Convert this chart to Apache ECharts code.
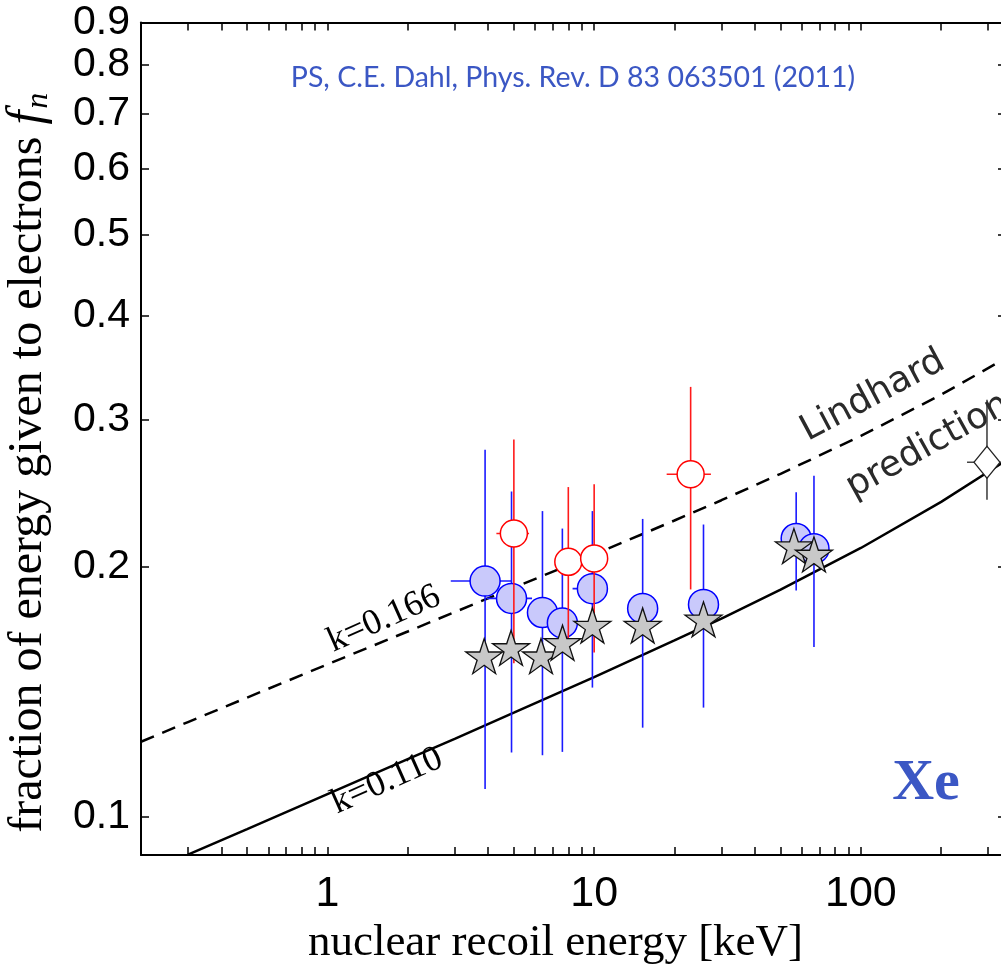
<!DOCTYPE html>
<html>
<head>
<meta charset="utf-8">
<title>Xe nuclear recoil quenching</title>
<script src="https://cdn.jsdelivr.net/npm/echarts@6/dist/echarts.min.js"></script>
<style>
  html, body { margin: 0; padding: 0; background: #fff; overflow: hidden; }
  #chart { width: 1010px; height: 965px; }
</style>
</head>
<body>
<div id="chart"></div>
<script>
// ── Data ───────────────────────────────────────────────────
// Lindhard curves, sampled along the drawn lines
const lindE      = [0.2, 0.3, 0.5, 1, 2, 3, 5, 10, 20, 30, 50, 100, 200, 350];
const lindK166   = [0.1231, 0.1300, 0.1391, 0.1525, 0.1670, 0.1762, 0.1885, 0.2066, 0.2270, 0.2401, 0.2583, 0.2868, 0.3215, 0.3558];
const lindK110   = [null, 0.0901, 0.0967, 0.1065, 0.1173, 0.1241, 0.1334, 0.1472, 0.1629, 0.1731, 0.1875, 0.2104, 0.2390, 0.2680];

// blue filled circles
const blueE    = [3.9, 4.9, 6.4, 7.6, 9.85, 15.2, 25.7, 57.2, 66.7];
const blueF    = [0.192, 0.183, 0.176, 0.171, 0.188, 0.178, 0.180, 0.216, 0.210];
const blueFLo  = [0.108, 0.1195, 0.1186, 0.1197, 0.143, 0.128, 0.1353, 0.187, 0.160];
const blueFHi  = [0.276, 0.246, 0.233, 0.222, 0.233, 0.228, 0.2245, 0.2455, 0.257];
const blueELo  = [2.9, 3.95, null, null, 8.3, null, null, null, null];
const blueEHi  = [4.9, 5.85, null, null, 11.2, null, null, null, null];

// red open circles
const redE     = [5.0, 8.0, 10.0, 23.0];
const redF     = [0.219, 0.2025, 0.2044, 0.258];
const redFLo   = [0.153, 0.156, 0.1576, 0.1876];
const redFHi   = [0.284, 0.249, 0.251, 0.3285];
const redELo   = [4.3, null, null, 18.7];
const redEHi   = [5.7, null, null, 27.4];

// grey stars
const starE    = [3.87, 4.88, 6.32, 7.61, 9.85, 15.2, 25.7, 56.1, 66.7];
const starF    = [0.156, 0.1596, 0.156, 0.1619, 0.1698, 0.1698, 0.1727, 0.2115, 0.2067];

// open diamond
const diaE     = [297];
const diaF     = [0.2667];
const diaFLo   = [0.2405];
const diaFHi   = [0.317];
const diaELo   = [250];
const diaEHi   = [344];

// axis ticks / labels
const xTicks  = [0.2, 0.3, 0.4, 0.5, 0.6, 0.7, 0.8, 0.9, 1, 2, 3, 4, 5, 6, 7, 8, 9,
                 10, 20, 30, 40, 50, 60, 70, 80, 90, 100, 200, 300];
const xLabels = [1, 10, 100];
const yTicks  = [0.1, 0.2, 0.3, 0.4, 0.5, 0.6, 0.7, 0.8, 0.9];

// ── Helpers ────────────────────────────────────────────────
const zip = (xs, ys) => xs.map((x, i) => [x, ys[i]]).filter(p => p[1] != null);

function errorRows(xs, ys, lo, hi, xlo, xhi) {
	return xs.map((x, i) => [x, ys[i], lo[i], hi[i],
		xlo && xlo[i] != null ? xlo[i] : x,
		xhi && xhi[i] != null ? xhi[i] : x]);
}

function errorBars(rows, color, width, z) {
	return {
		type: "custom",
		z,
		silent: true,
		encode: { x: 0, y: 1 },
		data: rows,
		renderItem: (params, api) => {
			const x = api.value(0), y = api.value(1);
			const top = api.coord([x, api.value(3)]);
			const bot = api.coord([x, api.value(2)]);
			const lft = api.coord([api.value(4), y]);
			const rgt = api.coord([api.value(5), y]);
			const style = { stroke: color, lineWidth: width };
			return {
				type: "group",
				children: [
					{ type: "line", shape: { x1: top[0], y1: top[1], x2: bot[0], y2: bot[1] }, style },
					{ type: "line", shape: { x1: lft[0], y1: lft[1], x2: rgt[0], y2: rgt[1] }, style },
				],
			};
		},
	};
}

const STAR = "path://M0,-1L0.2245,-0.309L0.951,-0.309L0.363,0.118L0.588,0.809L0,0.382L-0.588,0.809L-0.363,0.118L-0.951,-0.309L-0.2245,-0.309Z";

const tickFont = { fontFamily: "Liberation Sans", fontSize: 41, color: "#000",
	hideOverlap: false, showMinLabel: true, showMaxLabel: true };
const frameLine = { show: true, lineStyle: { color: "#000", width: 2 } };
const fmt = v => String(+(+v).toPrecision(6));

function xAxis(position, labels) {
	return {
		type: "log", logBase: 10, min: 0.2, max: 350, position,
		axisLine: frameLine,
		axisTick: { inside: true, length: 8, lineStyle: { color: "#000", width: 1.5 }, customValues: xTicks },
		axisLabel: labels
			? { ...tickFont, fontSize: 43, margin: 18, customValues: xLabels, formatter: fmt }
			: { show: false },
		splitLine: { show: false }, minorTick: { show: false },
	};
}

function yAxis(position, labels) {
	return {
		type: "log", logBase: 10, min: 0.09, max: 0.9, position,
		axisLine: frameLine,
		axisTick: { inside: true, length: 8, lineStyle: { color: "#000", width: 1.5 }, customValues: yTicks },
		axisLabel: labels
			? { ...tickFont, margin: 11, customValues: yTicks, formatter: v => (+v).toFixed(1) }
			: { show: false },
		splitLine: { show: false }, minorTick: { show: false },
	};
}

// ── Chart ──────────────────────────────────────────────────
const chart = echarts.init(document.getElementById("chart"), null, { renderer: "canvas" });

const serif = "Liberation Serif";

const xMain = xAxis("bottom", true);
xMain.name = "nuclear recoil energy [keV]";
xMain.nameLocation = "middle";
xMain.nameGap = 50;
xMain.nameTextStyle = { fontFamily: serif, fontSize: 45, color: "#000", padding: [0, 36, 0, 0] };

const yMain = yAxis("left", true);
yMain.name = "{a|fraction of energy given to electrons }{f|f}{n|n}";
yMain.nameLocation = "middle";
yMain.nameGap = 86;
yMain.nameTextStyle = {
	fontFamily: serif, fontSize: 48, color: "#000",
	padding: [0, 48, 0, 0],
	rich: {
		a: { fontFamily: serif, fontSize: 48, color: "#000" },
		f: { fontFamily: serif, fontStyle: "italic", fontSize: 50, color: "#000" },
		n: { fontFamily: serif, fontStyle: "italic", fontSize: 32, color: "#000", padding: [22, 0, 0, 2] },
	},
};

chart.setOption({
	animation: false,
	grid: { left: 141, top: 22.5, width: 865, height: 832.5, containLabel: false, outerBoundsMode: "none" },
	xAxis: [xMain, xAxis("top", false)],
	yAxis: [yMain, yAxis("right", false)],
	series: [
		{
			type: "line", z: 2, silent: true, symbol: "none", data: zip(lindE, lindK166),
			lineStyle: { color: "#000", width: 2.5, type: [14, 9] },
		},
		{
			type: "line", z: 2, silent: true, symbol: "none", data: zip(lindE, lindK110),
			lineStyle: { color: "#000", width: 2.5 },
		},
		errorBars(errorRows(blueE, blueF, blueFLo, blueFHi, blueELo, blueEHi), "#1a1aff", 1.6, 3),
		{
			type: "scatter", z: 4, silent: true, symbol: "circle", symbolSize: 30,
			data: zip(blueE, blueF),
			itemStyle: { color: "#c9c9fb", borderColor: "#0000ff", borderWidth: 1.5, opacity: 1 },
		},
		errorBars(errorRows(redE, redF, redFLo, redFHi, redELo, redEHi), "#ff1a1a", 1.6, 5),
		{
			type: "scatter", z: 6, silent: true, symbol: "circle", symbolSize: 27,
			data: zip(redE, redF),
			itemStyle: { color: "#fff", borderColor: "#ff0000", borderWidth: 1.5, opacity: 1 },
		},
		{
			type: "scatter", z: 7, silent: true, symbol: STAR, symbolSize: [37, 35],
			data: zip(starE, starF),
			itemStyle: { color: "#c8c8c8", borderColor: "#111", borderWidth: 1.3, opacity: 1 },
		},
		errorBars(errorRows(diaE, diaF, diaFLo, diaFHi, diaELo, diaEHi), "#444", 1.6, 3),
		{
			type: "scatter", z: 4, silent: true, symbol: "diamond", symbolSize: [26, 32],
			data: zip(diaE, diaF),
			itemStyle: { color: "#fff", borderColor: "#222", borderWidth: 1.3, opacity: 1 },
		},
	],
	graphic: [
		{
			type: "text", x: 573, y: 78, z: 10,
			style: { text: "PS, C.E. Dahl, Phys. Rev. D 83 063501 (2011)", fontFamily: "Lato", fontSize: 28.5,
				fill: "#3b57c4", align: "center", verticalAlign: "middle" },
		},
		{
			type: "text", x: 926, y: 784, z: 10,
			style: { text: "Xe", fontFamily: serif, fontWeight: "bold", fontSize: 58,
				fill: "#3b57c4", align: "center", verticalAlign: "middle" },
		},
		{
			type: "text", x: 384, y: 619, z: 10, rotation: 24 * Math.PI / 180,
			style: { text: "k=0.166", fontFamily: serif, fontSize: 36, fill: "#000",
				align: "center", verticalAlign: "middle" },
		},
		{
			type: "text", x: 387, y: 781, z: 10, rotation: 24 * Math.PI / 180,
			style: { text: "k=0.110", fontFamily: serif, fontSize: 36, fill: "#000",
				align: "center", verticalAlign: "middle" },
		},
		{
			type: "text", x: 873, y: 396, z: 10, rotation: 28 * Math.PI / 180,
			style: { text: "Lindhard", fontFamily: "DejaVu Sans", fontSize: 36, fill: "#2a2a2a",
				align: "center", verticalAlign: "middle" },
		},
		{
			type: "text", x: 928, y: 446, z: 10, rotation: 29 * Math.PI / 180,
			style: { text: "prediction", fontFamily: "DejaVu Sans", fontSize: 36, fill: "#2a2a2a",
				align: "center", verticalAlign: "middle" },
		},
	],
});
</script>
</body>
</html>
